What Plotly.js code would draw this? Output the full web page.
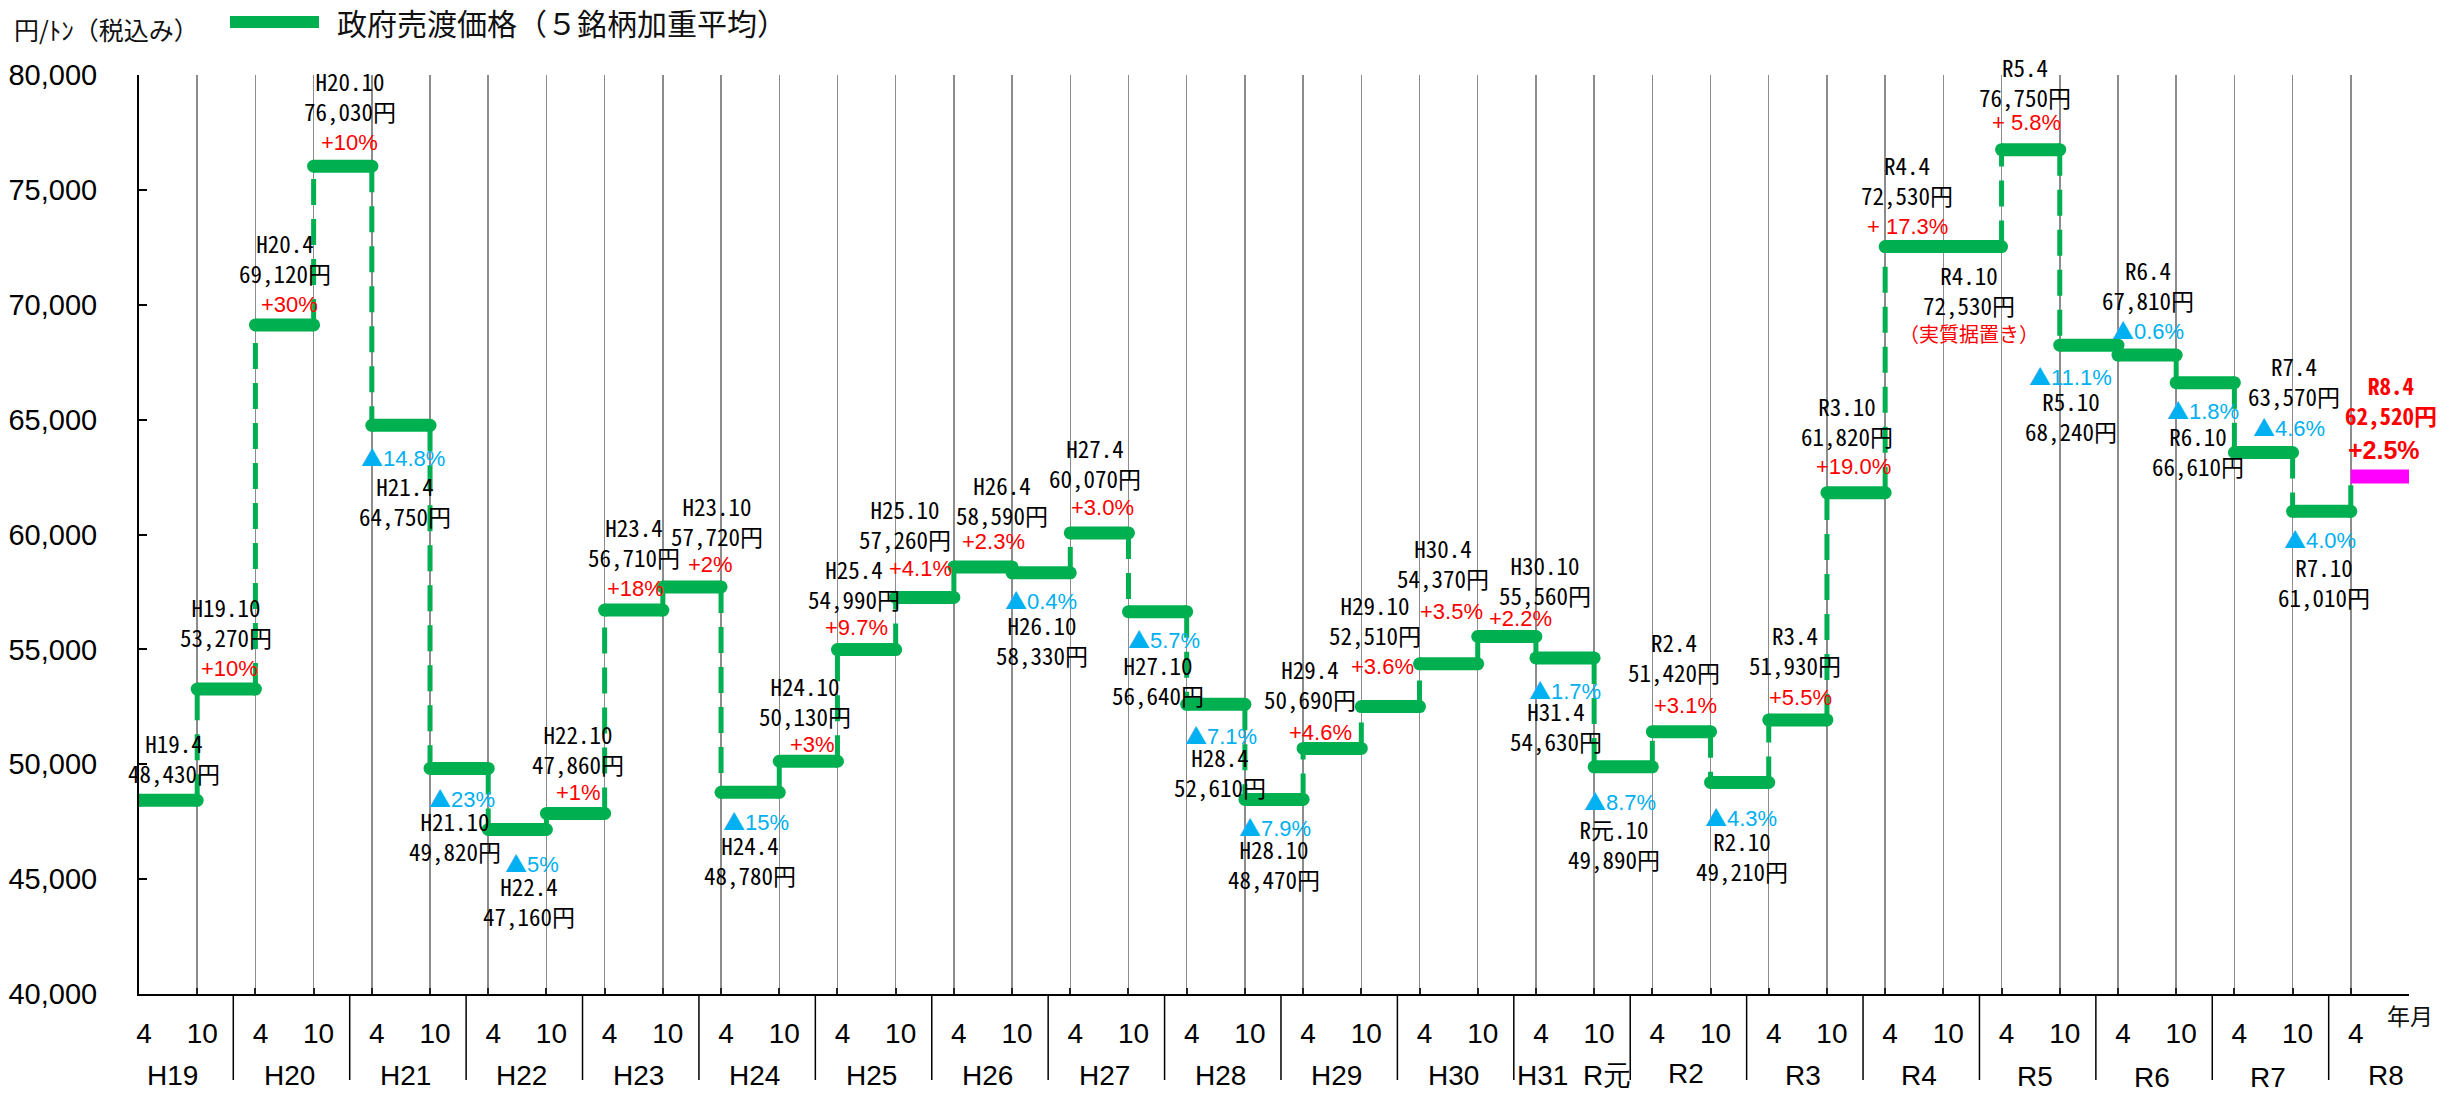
<!DOCTYPE html>
<html><head><meta charset="utf-8">
<script src="https://cdn.plot.ly/plotly-3.0.1.min.js"></script>
<style>html,body{margin:0;padding:0;background:#fff}</style>
</head><body>
<div id="chart" style="width:2446px;height:1095px"></div>
<script>
// ---------- data ----------
const periods = ['H19.4','H19.10','H20.4','H20.10','H21.4','H21.10','H22.4','H22.10','H23.4','H23.10',
  'H24.4','H24.10','H25.4','H25.10','H26.4','H26.10','H27.4','H27.10','H28.4','H28.10',
  'H29.4','H29.10','H30.4','H30.10','H31.4','R元.10','R2.4','R2.10','R3.4','R3.10',
  'R4.4','R4.10','R5.4','R5.10','R6.4','R6.10','R7.4','R7.10','R8.4'];
const prices = [48430,53270,69120,76030,64750,49820,47160,47860,56710,57720,
  48780,50130,54990,57260,58590,58330,60070,56640,52610,48470,
  50690,52510,54370,55560,54630,49890,51420,49210,51930,61820,
  72530,72530,76750,68240,67810,66610,63570,61010,62520];
const changes = ['','+10%','+30%','+10%','▲14.8%','▲23%','▲5%','+1%','+18%','+2%',
  '▲15%','+3%','+9.7%','+4.1%','+2.3%','▲0.4%','+3.0%','▲5.7%','▲7.1%','▲7.9%',
  '+4.6%','+3.6%','+3.5%','+2.2%','▲1.7%','▲8.7%','+3.1%','▲4.3%','+5.5%','+19.0%',
  '+ 17.3%','（実質据置き）','+ 5.8%','▲11.1%','▲0.6%','▲1.8%','▲4.6%','▲4.0%','+2.5%'];
const years = ['H19','H20','H21','H22','H23','H24','H25','H26','H27','H28','H29','H30',
  'H31','R元','R2','R3','R4','R5','R6','R7','R8'];
const yTicks = [40000,45000,50000,55000,60000,65000,70000,75000,80000];
const legendText = '政府売渡価格（５銘柄加重平均）';
const unitText = '円/ﾄﾝ（税込み）';
const axisUnitText = '年月';

// ---------- layout helpers (positions only) ----------
// label placement per period: [dxName(px), dyName(px), dyValue(px), dxPct(px), dyPct(px)]
const labelPos = [
 [6,57,27,0,0],[0,82,52,3,21],[0,82,51,5,20],[7,85,55,7,24],[4,-61,-91,2,-31],
 [-4,-54,-82,3,-29],[12,-58,-85,15,-32],[2,78,50,3,21],[0,83,53,2,22],[25,80,52,19,22],
 [0,-53,-83,6,-28],[-3,76,45,4,17],[-13,81,51,-10,22],[-20,88,58,-4,29],[19,82,51,11,25],
 [1,-53,-81,0,-26],[-4,83,56,3,25],[0,-54,-83,6,-26],[4,-53,-83,5,-30],[0,-49,-81,1,-27],
 [-22,79,50,-12,16],[-15,101,72,-8,40],[-6,114,88,3,52],[38,72,42,14,18],[-9,-53,-83,0,-31],
 [-9,-62,-93,-3,-33],[-7,90,60,4,26],[2,-58,-89,1,-34],[-3,85,54,3,22],[-9,86,57,-3,26],
 [-7,82,52,-7,20],[-3,-28,-58,-3,-87],[-6,81,55,-4,27],[-18,-56,-86,-18,-30],[1,84,56,1,26],
 [-7,-54,-83,-2,-26],[31,86,56,26,26],[2,-57,-84,-2,-27],[11,92,61,4,27]
];
const yearLabelX = [0.58,2.58,4.58,6.58,8.58,10.58,12.58,14.58,16.58,18.58,20.58,22.58,
  24.12,25.22,26.58,28.58,30.58,32.58,34.58,36.58,38.6];
const yearLabelY = [1075,1075,1075,1075,1075,1075,1075,1075,1075,1075,1075,1075,
  1075,1075,1073,1075,1075,1076,1077,1077,1075];
const yearBoundaryBefore = [2,4,6,8,10,12,14,16,18,20,22,24,26,28,30,32,34,36,38];

const W=2446,H=1095, ML=139, MR=37, MT=75, MB=101;
const PW=W-ML-MR, PH=H-MT-MB;
const px=x=>(x-ML)/PW, py=y=>(H-MB-y)/PH;

const GREEN='#00b050', MAG='#ff00ff', RED='#ff0000', BLUE='#00b0f0';
const monoFont='"Noto Sans Mono CJK JP","Noto Sans CJK JP",sans-serif';
const sansFont='"Liberation Sans",Arial,sans-serif';
const cjkFont='"Noto Sans CJK JP",sans-serif';

const n = prices.length;
// horizontal steps (all but latest)
const hx=[],hy=[];
for(let i=0;i<n-1;i++){hx.push(i,i+1,null);hy.push(prices[i],prices[i],null);}
// vertical dashed connectors
const vx=[],vy=[];
for(let i=0;i<n-1;i++){vx.push(i+1,i+1,null);vy.push(prices[i],prices[i+1],null);}

const traces=[
 {x:vx,y:vy,mode:'lines',line:{color:GREEN,width:5,dash:'26px,14px'},hoverinfo:'skip',showlegend:false},
 {x:hx,y:hy,mode:'lines+markers',line:{color:GREEN,width:13},marker:{color:GREEN,size:13,line:{width:0}},hoverinfo:'skip',showlegend:false},
 {x:[n-1,n],y:[prices[n-1],prices[n-1]],mode:'lines',line:{color:MAG,width:14},hoverinfo:'skip',showlegend:false}
];

const fmt = v => v.toString().replace(/\B(?=(\d{3})+(?!\d))/g, ',');
const tri = '<span style="font-family:\'Noto Sans CJK JP\'">▲</span>';
const ann=[];
for(let i=0;i<n;i++){
  const p=labelPos[i], last=(i===n-1);
  const baseColor = last?RED:'#000';
  let block = periods[i]+'<br>'+fmt(prices[i])+'円';
  if(last) block = '<b>'+periods[i]+'</b><br><b>'+fmt(prices[i])+'円</b>';
  ann.push({x:i+0.5,y:prices[i],xref:'x',yref:'y',text:block,showarrow:false,
    xshift:p[0],yshift:(p[1]+p[2])/2,xanchor:'center',yanchor:'middle',align:'center',
    font:{family:monoFont,size:23,color:baseColor}});
  const c=changes[i];
  if(c){
    let color=RED, fam=sansFont, size=22, txt=c;
    if(c.startsWith('▲')){color=BLUE; txt=tri+c.slice(1);}
    if(c.startsWith('（')){fam=cjkFont;size=20;}
    if(last){txt='<b>'+c+'</b>';size=25;}
    ann.push({x:i+0.5,y:prices[i],xref:'x',yref:'y',text:txt,showarrow:false,xshift:p[3],yshift:p[4],xanchor:'center',yanchor:'middle',font:{family:fam,size:size,color:color}});
  }
}
// year labels
years.forEach((t,k)=>ann.push({x:yearLabelX[k],y:py(yearLabelY[k]),xref:'x',yref:'paper',text:t,showarrow:false,xanchor:'center',yanchor:'middle',font:{family:sansFont,size:28,color:'#000'}}));
// legend text & unit
ann.push({x:px(335),y:py(22),xref:'paper',yref:'paper',text:legendText,showarrow:false,xanchor:'left',yanchor:'middle',font:{family:cjkFont,size:30,color:'#111'}});
ann.push({x:px(12),y:py(29),xref:'paper',yref:'paper',text:unitText,showarrow:false,xanchor:'left',yanchor:'middle',font:{family:cjkFont,size:25,color:'#111'}});
ann.push({x:px(2410),y:py(1015),xref:'paper',yref:'paper',text:axisUnitText,showarrow:false,xanchor:'center',yanchor:'middle',font:{family:cjkFont,size:23,color:'#111'}});

const shapes=[];
yearBoundaryBefore.forEach(b=>shapes.push({type:'line',xref:'x',yref:'paper',x0:b-0.38,x1:b-0.38,y0:0,y1:py(1080),line:{color:'#000',width:1.5}}));
shapes.push({type:'line',xref:'paper',yref:'paper',x0:px(230),x1:px(319),y0:py(22),y1:py(22),line:{color:GREEN,width:12}});

const tickvals=[],ticktext=[];
for(let i=0;i<=n;i++){tickvals.push(i);ticktext.push(i<n?periods[i].split('.')[1]:'');}

const layout={
  width:W,height:H,margin:{l:ML,r:MR,t:MT,b:MB,pad:0},
  paper_bgcolor:'#fff',plot_bgcolor:'#fff',showlegend:false,
  xaxis:{range:[0,n],tickmode:'array',tickvals:tickvals,ticktext:ticktext,
    ticks:'inside',ticklen:6,tickwidth:2,tickcolor:'#222',
    showgrid:true,gridcolor:'#8c8c8c',gridwidth:1.5,zeroline:false,
    showline:true,linecolor:'#000',linewidth:2,
    tickfont:{family:sansFont,size:28,color:'#000'},ticklabelstandoff:13,ticklabelshift:5,fixedrange:true},
  yaxis:{range:[40000,80000],tickmode:'array',tickvals:yTicks,tickformat:',d',
    ticks:'inside',ticklen:8,tickwidth:2,tickcolor:'#000',
    showgrid:false,zeroline:false,showline:true,linecolor:'#000',linewidth:2,
    tickfont:{family:sansFont,size:29,color:'#000'},ticklabelstandoff:34,fixedrange:true},
  annotations:ann,shapes:shapes
};
Plotly.newPlot('chart',traces,layout,{staticPlot:true,displayModeBar:false});
</script>
</body></html>
